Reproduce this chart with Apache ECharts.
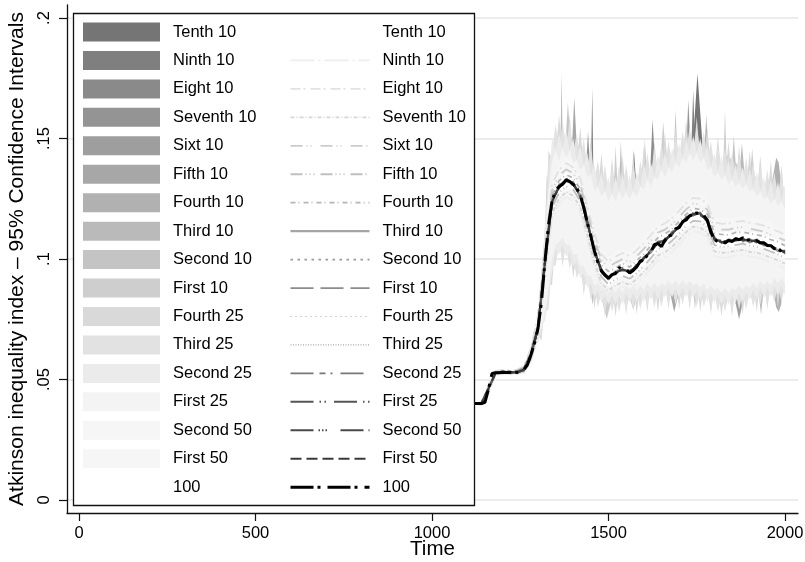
<!DOCTYPE html>
<html><head><meta charset="utf-8">
<script src="https://cdn.jsdelivr.net/npm/echarts@6/dist/echarts.min.js"></script>
<style>html,body{margin:0;padding:0;background:#fff}#c{width:805px;height:562px}</style>
</head><body><div id="c"></div>
<script>
// ---------------- data ----------------
const xTickValues = [0, 500, 1000, 1500, 2000];
const xTickLabels = ['0', '500', '1000', '1500', '2000'];
const yTickValues = [0, 0.05, 0.1, 0.15, 0.2];
const yTickLabels = ['0', '.05', '.1', '.15', '.2'];

const bandNames = ['Tenth 10','Ninth 10','Eight 10','Seventh 10','Sixt 10','Fifth 10','Fourth 10','Third 10','Second 10','First 10','Fourth 25','Third 25','Second 25','First 25','Second 50','First 50','100'];

// point estimate, full sample (100)
const mainTime = [1120,1130,1140,1150,1160,1170,1180,1190,1200,1210,1220,1230,1240,1250,1260,1270,1280,1290,1300,1310,1320,1330,1340,1350,1360,1370,1380,1390,1400,1410,1420,1430,1440,1450,1460,1470,1480,1490,1500,1510,1520,1530,1540,1550,1560,1570,1580,1590,1600,1610,1620,1630,1640,1650,1660,1670,1680,1690,1700,1710,1720,1730,1740,1750,1760,1770,1780,1790,1800,1810,1820,1830,1840,1850,1860,1870,1880,1890,1900,1910,1920,1930,1940,1950,1960,1970,1980,1990,2000];
const full100Line = [.0400,.0400,.0400,.0405,.0460,.0525,.0528,.0528,.0530,.0529,.0530,.0529,.0530,.0531,.0540,.0560,.0600,.0650,.0710,.0820,.0990,.1140,.1240,.1285,.1300,.1310,.1328,.1322,.1310,.1295,.1265,.1215,.1150,.1095,.1035,.0985,.0950,.0932,.0920,.0935,.0940,.0965,.0955,.0958,.0942,.0952,.0968,.0992,.0996,.1016,.1030,.1060,.1064,.1052,.1078,.1095,.1100,.1126,.1130,.1155,.1162,.1180,.1184,.1192,.1180,.1182,.1160,.1110,.1082,.1070,.1076,.1066,.1077,.1072,.1084,.1080,.1088,.1078,.1080,.1070,.1076,.1066,.1068,.1056,.1055,.1042,.1045,.1030,.1030];

// point estimates of the sub-samples
const lineTime = [1120,1140,1160,1180,1200,1220,1240,1260,1280,1300,1320,1340,1360,1380,1400,1420,1440,1460,1480,1500,1520,1540,1560,1580,1600,1620,1640,1660,1680,1700,1720,1740,1760,1780,1800,1820,1840,1860,1880,1900,1920,1940,1960,1980,2000];
const tenth10Line  = [.0400,.0400,.0462,.0530,.0532,.0531,.0531,.0542,.0603,.0713,.0993,.1243,.1303,.1331,.1313,.1268,.1153,.1038,.0953,.0925,.0948,.0961,.0948,.0975,.1003,.1038,.1071,.1081,.1108,.1138,.1171,.1191,.1189,.1163,.1085,.1075,.1077,.1085,.1083,.1079,.1077,.1067,.1055,.1043,.1031];
const ninth10Line  = [.0398,.0394,.0440,.0520,.0522,.0522,.0520,.0528,.0575,.0660,.0920,.1170,.1230,.1258,.1240,.1195,.1080,.0965,.0880,.0850,.0870,.0885,.0872,.0898,.0926,.0960,.0994,.1008,.1030,.1060,.1092,.1114,.1110,.1090,.1012,.1006,.1007,.1014,.1018,.1010,.1006,.0998,.0985,.0975,.0960];
const eight10Line  = [.0402,.0406,.0475,.0536,.0540,.0538,.0540,.0555,.0630,.0765,.1060,.1310,.1370,.1398,.1380,.1335,.1220,.1105,.1020,.0990,.1010,.1025,.1012,.1038,.1066,.1100,.1134,.1148,.1170,.1200,.1232,.1254,.1250,.1230,.1152,.1146,.1147,.1154,.1158,.1150,.1146,.1138,.1125,.1115,.1100];
const seventh10Line= [.0399,.0396,.0448,.0522,.0525,.0524,.0524,.0532,.0582,.0680,.0945,.1190,.1250,.1278,.1262,.1215,.1100,.0985,.0900,.0870,.0890,.0905,.0892,.0918,.0946,.0980,.1014,.1028,.1050,.1080,.1112,.1134,.1130,.1110,.1032,.1026,.1027,.1034,.1038,.1030,.1026,.1018,.1005,.0995,.0980];
const sixt10Line   = [.0401,.0404,.0470,.0532,.0536,.0534,.0537,.0550,.0620,.0745,.1035,.1285,.1346,.1372,.1356,.1310,.1196,.1082,.0996,.0966,.0985,.1000,.0988,.1012,.1042,.1075,.1110,.1122,.1146,.1175,.1206,.1230,.1226,.1205,.1126,.1122,.1122,.1130,.1132,.1126,.1120,.1114,.1100,.1090,.1076];
const fifth10Line  = [.0400,.0398,.0455,.0526,.0527,.0528,.0526,.0535,.0590,.0695,.0968,.1215,.1275,.1302,.1288,.1240,.1128,.1010,.0926,.0895,.0916,.0930,.0918,.0942,.0972,.1004,.1040,.1052,.1076,.1104,.1138,.1158,.1156,.1135,.1058,.1050,.1053,.1058,.1064,.1055,.1052,.1042,.1031,.1019,.1006];
const fourth10Line = [.0400,.0402,.0465,.0530,.0534,.0532,.0535,.0546,.0610,.0725,.1010,.1262,.1325,.1350,.1335,.1290,.1175,.1062,.0975,.0948,.0962,.0982,.0966,.0994,.1020,.1056,.1088,.1104,.1124,.1156,.1185,.1210,.1205,.1186,.1106,.1102,.1100,.1110,.1112,.1106,.1100,.1094,.1080,.1072,.1055];
const third10Line  = [.0400,.0402,.0464,.0526,.0533,.0529,.0532,.0543,.0604,.0714,.0985,.1236,.1305,.1323,.1314,.1260,.1155,.1031,.0955,.0918,.0949,.0955,.0949,.0967,.1005,.1030,.1072,.1074,.1110,.1131,.1172,.1184,.1190,.1155,.1087,.1068,.1078,.1078,.1084,.1072,.1078,.1060,.1056,.1036,.1032];
const second10Line = [.0401,.0398,.0455,.0532,.0526,.0534,.0526,.0535,.0592,.0700,.1002,.1250,.1292,.1337,.1302,.1274,.1140,.1043,.0942,.0930,.0937,.0965,.0937,.0980,.0992,.1043,.1060,.1086,.1097,.1143,.1160,.1196,.1178,.1168,.1074,.1080,.1066,.1090,.1072,.1084,.1066,.1072,.1044,.1048,.1020];
const first10Line  = [.0400,.0403,.0465,.0525,.0534,.0527,.0534,.0546,.0608,.0720,.0978,.1230,.1310,.1318,.1320,.1255,.1160,.1027,.0958,.0914,.0953,.0951,.0953,.0963,.1009,.1026,.1076,.1070,.1114,.1127,.1176,.1180,.1194,.1151,.1091,.1064,.1082,.1074,.1088,.1068,.1082,.1056,.1060,.1032,.1036];
const fourth25Line = [.0401,.0399,.0457,.0531,.0527,.0533,.0527,.0537,.0595,.0705,.0998,.1245,.1295,.1334,.1305,.1270,.1144,.1040,.0945,.0927,.0940,.0962,.0940,.0977,.0995,.1040,.1063,.1083,.1100,.1140,.1163,.1193,.1181,.1165,.1077,.1077,.1069,.1087,.1075,.1081,.1069,.1069,.1047,.1045,.1023];
const third25Line  = [.0400,.0402,.0463,.0526,.0533,.0528,.0533,.0544,.0605,.0716,.0982,.1235,.1306,.1322,.1316,.1258,.1157,.1030,.0956,.0917,.0950,.0954,.0950,.0966,.1006,.1029,.1073,.1073,.1111,.1130,.1173,.1183,.1191,.1154,.1088,.1067,.1079,.1077,.1085,.1071,.1079,.1059,.1057,.1035,.1033];
const second25Line = [.0400,.0399,.0458,.0530,.0528,.0532,.0530,.0538,.0597,.0708,.0994,.1237,.1297,.1331,.1307,.1268,.1147,.1038,.0947,.0925,.0942,.0960,.0942,.0975,.0997,.1038,.1065,.1081,.1102,.1138,.1165,.1191,.1183,.1163,.1079,.1075,.1071,.1085,.1077,.1079,.1071,.1067,.1049,.1043,.1025];
const first25Line  = [.0399,.0401,.0461,.0528,.0532,.0530,.0528,.0542,.0603,.0713,.0986,.1243,.1303,.1325,.1313,.1263,.1153,.1032,.0953,.0919,.0948,.0956,.0948,.0969,.1003,.1032,.1071,.1075,.1108,.1132,.1171,.1185,.1189,.1157,.1085,.1069,.1077,.1079,.1083,.1073,.1077,.1061,.1055,.1037,.1031];
const second50Line = [.0401,.0400,.0459,.0529,.0529,.0531,.0529,.0539,.0598,.0709,.0992,.1242,.1298,.1330,.1308,.1267,.1148,.1037,.0948,.0920,.0947,.0959,.0943,.0974,.0998,.1037,.1070,.1076,.1107,.1133,.1170,.1190,.1184,.1162,.1080,.1074,.1072,.1084,.1078,.1078,.1072,.1066,.1050,.1042,.1026];
const first50Line  = [.0400,.0401,.0462,.0527,.0531,.0529,.0531,.0541,.0602,.0712,.0988,.1238,.1302,.1326,.1312,.1262,.1152,.1033,.0952,.0924,.0943,.0957,.0947,.0970,.1002,.1033,.1066,.1080,.1103,.1137,.1166,.1186,.1188,.1158,.1084,.1070,.1076,.1080,.1082,.1074,.1076,.1062,.1054,.1038,.1030];

// 95% confidence intervals (lower / upper bounds) of the sub-samples
const tenth10Time = [1300,1350,1400,1500,1565,1572,1579,1600,1700,1738,1752,1766,1800,2000];
const tenth10Hi   = [.072,.136,.139,.100,.130,.145,.130,.108,.121,.145,.177,.148,.116,.111];
const tenth10Lo   = [.070,.121,.123,.084,.088,.088,.089,.092,.105,.110,.110,.110,.100,.095];
const ninth10Time = [1300,1350,1400,1451,1454,1457,1500,1600,1700,1735,1740,1745,1800,2000];
const ninth10Hi   = [.072,.136,.139,.143,.171,.137,.100,.108,.121,.148,.170,.148,.116,.111];
const ninth10Lo   = [.070,.121,.123,.103,.102,.101,.084,.092,.105,.110,.110,.110,.100,.095];
const eight10Time = [1300,1350,1400,1500,1600,1618,1625,1632,1700,1800,2000];
const eight10Hi   = [.072,.136,.139,.100,.108,.136,.158,.138,.121,.116,.111];
const eight10Lo   = [.070,.121,.123,.084,.092,.095,.095,.096,.105,.100,.095];
const seventh10Time = [1300,1350,1400,1438,1442,1446,1500,1600,1700,1720,1726,1732,1800,2000];
const seventh10Hi   = [.072,.136,.139,.142,.153,.142,.100,.108,.121,.143,.166,.148,.116,.111];
const seventh10Lo   = [.070,.121,.123,.110,.108,.105,.084,.092,.105,.106,.106,.107,.100,.095];
const sixt10Time  = [1300,1350,1400,1500,1600,1700,1800,1858,1870,1882,1900,2000];
const sixt10Hi    = [.072,.136,.139,.100,.108,.121,.116,.116,.116,.116,.116,.111];
const sixt10Lo    = [.070,.121,.123,.084,.092,.105,.100,.083,.075,.083,.100,.095];
const fifth10Time = [1300,1350,1397,1403,1409,1500,1600,1676,1686,1696,1800,2000];
const fifth10Hi   = [.072,.136,.148,.167,.150,.100,.108,.118,.119,.120,.116,.111];
const fifth10Lo   = [.070,.121,.122,.122,.121,.084,.092,.085,.078,.084,.100,.095];
const fourth10Time = [1300,1350,1400,1500,1600,1700,1772,1777,1782,1900,1961,1968,1975,1982,1989,2000];
const fourth10Hi   = [.072,.136,.139,.100,.108,.121,.146,.160,.145,.116,.130,.136,.142,.140,.132,.111];
const fourth10Lo   = [.070,.121,.123,.084,.092,.105,.104,.104,.104,.100,.090,.086,.080,.078,.081,.095];
const third10Time = [1300,1350,1364,1367,1370,1400,1500,1530,1535,1540,1600,1800,1871,1878,1885,1924,1932,1940,2000];
const third10Hi   = [.072,.136,.148,.177,.150,.139,.100,.130,.149,.131,.108,.116,.136,.148,.136,.118,.117,.116,.111];
const third10Lo   = [.070,.121,.122,.122,.122,.123,.084,.088,.088,.088,.092,.100,.100,.100,.100,.088,.077,.088,.095];
const second10Time = [1300,1350,1379,1385,1391,1449,1455,1461,1500,1562,1570,1578,1598,1603,1608,1684,1690,1696,1800,1849,1855,1861,2000];
const second10Hi   = [.072,.136,.150,.165,.152,.125,.122,.120,.100,.110,.110,.110,.133,.150,.135,.140,.162,.141,.116,.138,.151,.138,.111];
const second10Lo   = [.070,.121,.124,.124,.124,.087,.081,.087,.084,.083,.079,.083,.092,.092,.093,.102,.102,.103,.100,.100,.100,.100,.095];
const first10Time = [1300,1321,1325,1329,1350,1400,1483,1495,1507,1514,1520,1526,1600,1647,1655,1663,1700,1740,1745,1750,1800,1826,1830,1834,1901,1907,1913,2000];
const first10Hi   = [.072,.115,.135,.130,.136,.139,.104,.101,.102,.128,.147,.130,.108,.141,.157,.142,.121,.126,.126,.126,.116,.143,.162,.143,.135,.146,.135,.111];
const first10Lo   = [.070,.090,.092,.095,.121,.123,.082,.075,.082,.086,.086,.087,.092,.099,.100,.100,.105,.086,.079,.086,.100,.100,.100,.100,.100,.100,.100,.095];

const ciTime = [1300,1310,1320,1330,1340,1350,1360,1370,1380,1390,1400,1410,1420,1430,1440,1450,1460,1470,1480,1490,1500,1510,1520,1530,1540,1550,1560,1570,1580,1590,1600,1610,1620,1630,1640,1650,1660,1670,1680,1690,1700,1710,1720,1730,1740,1750,1760,1770,1780,1790,1800,1810,1820,1830,1840,1850,1860,1870,1880,1890,1900,1910,1920,1930,1940,1950,1960,1970,1980,1990,2000];
const fourth25Hi = [.071,.083,.106,.145,.141,.143,.160,.144,.144,.160, .141,.139,.155,.137,.135,.150,.130,.128,.144,.126, .125,.142,.125,.126,.143,.126,.126,.143,.127,.128, .147,.131,.131,.149,.134,.135,.152,.136,.137,.155, .139,.140,.158,.142,.142,.159,.141,.140,.155,.136, .135,.151,.134,.133,.149,.131,.130,.147,.129,.129, .145,.127,.127,.143,.125,.124,.141,.123,.123,.139, .122];
const fourth25Lo = [.069,.066,.082,.090,.089,.108,.110,.097,.109,.107, .092,.103,.100,.085,.096,.094,.079,.091,.090,.076, .089,.089,.076,.089,.089,.077,.090,.090,.077,.090, .090,.078,.091,.091,.078,.091,.092,.079,.092,.092, .079,.092,.092,.079,.092,.091,.078,.091,.090,.077, .090,.089,.076,.089,.089,.076,.090,.090,.077,.090, .091,.091,.078,.092,.092,.079,.092,.093,.080,.093, .093];
const third25Hi  = [.070,.096,.109,.141,.144,.156,.146,.157,.147,.156, .144,.152,.141,.150,.138,.146,.133,.141,.130,.139, .128,.138,.128,.139,.129,.139,.129,.139,.130,.141, .133,.144,.134,.145,.137,.148,.138,.149,.140,.151, .142,.153,.144,.155,.145,.155,.144,.153,.141,.149, .138,.147,.137,.146,.135,.144,.133,.143,.132,.142, .131,.140,.130,.139,.128,.137,.127,.136,.126,.135, .125];
const third25Lo  = [.069,.068,.078,.079,.098,.097,.106,.099,.105,.096, .101,.092,.096,.087,.092,.083,.088,.080,.086,.078, .085,.078,.085,.078,.085,.079,.086,.079,.086,.079, .086,.080,.087,.080,.087,.080,.088,.081,.088,.081, .088,.081,.088,.081,.088,.080,.087,.080,.086,.079, .086,.078,.085,.078,.085,.078,.086,.079,.086,.079, .087,.080,.087,.081,.088,.081,.088,.082,.089,.082, .089];
const second25Hi = [.073,.087,.115,.130,.150,.145,.152,.146,.153,.145, .150,.141,.147,.139,.144,.135,.139,.130,.136,.128, .134,.127,.134,.128,.135,.128,.135,.128,.136,.130, .139,.133,.140,.134,.143,.137,.144,.138,.146,.140, .148,.142,.150,.144,.151,.144,.150,.142,.147,.138, .144,.136,.143,.135,.141,.133,.139,.132,.138,.131, .137,.129,.136,.128,.134,.126,.133,.125,.132,.124, .131];
const second25Lo = [.070,.075,.074,.086,.094,.104,.102,.106,.101,.103, .097,.099,.092,.094,.088,.090,.084,.087,.082,.085, .081,.085,.081,.085,.081,.086,.082,.086,.082,.086, .082,.087,.083,.087,.083,.087,.084,.088,.084,.088, .084,.088,.084,.088,.084,.087,.083,.087,.082,.086, .082,.085,.081,.085,.081,.085,.082,.086,.082,.086, .083,.087,.083,.088,.084,.088,.084,.089,.085,.089, .085];
const first25Hi  = [.073,.090,.110,.128,.140,.145,.141,.146,.142,.145, .140,.141,.137,.139,.134,.135,.128,.130,.126,.128, .124,.127,.124,.128,.125,.128,.125,.128,.126,.130, .129,.133,.130,.134,.133,.137,.134,.138,.136,.140, .138,.142,.140,.144,.141,.144,.140,.142,.137,.138, .134,.136,.133,.135,.131,.133,.130,.132,.129,.131, .128,.129,.126,.128,.125,.126,.123,.125,.122,.124, .121];
const first25Lo  = [.069,.071,.078,.088,.100,.106,.107,.109,.106,.106, .102,.102,.097,.097,.093,.093,.089,.090,.087,.088, .086,.088,.086,.088,.086,.089,.087,.089,.087,.089, .087,.090,.088,.090,.088,.090,.089,.091,.089,.091, .089,.091,.089,.091,.089,.090,.088,.090,.087,.089, .087,.088,.086,.088,.086,.088,.087,.089,.087,.089, .088,.090,.088,.091,.089,.091,.089,.092,.090,.092, .090];

const bandTime = [1300,1320,1340,1360,1380,1400,1420,1440,1460,1480,1500,1520,1540,1560,1580,1600,1620,1640,1660,1680,1700,1720,1740,1760,1780,1800,1820,1840,1860,1880,1900,1920,1940,1960,1980,2000];
const second50Hi = [.075,.108,.133,.139,.142,.140,.135,.124,.112,.104,.101,.103,.104,.103,.106,.109,.112,.115,.117,.119,.122,.125,.127,.127,.125,.117,.117,.117,.117,.118,.117,.117,.116,.115,.113,.112];
const second50Lo = [.067,.093,.118,.124,.127,.125,.121,.109,.098,.0895,.0865,.0885,.090,.0887,.0913,.094,.0975,.101,.102,.1045,.1075,.111,.113,.1125,.1105,.1027,.102,.102,.103,.103,.1025,.102,.101,.100,.099,.0975];
const first50Hi  = [.074,.106,.131,.137,.140,.138,.1335,.122,.1105,.102,.099,.101,.1025,.101,.104,.1066,.110,.1134,.1148,.117,.120,.1232,.1254,.125,.123,.1152,.1146,.1147,.1154,.1158,.115,.1146,.1138,.1125,.1115,.110];
const first50Lo  = [.068,.095,.120,.126,.1288,.127,.1225,.111,.0995,.091,.088,.090,.0915,.0902,.0928,.0956,.099,.1024,.1038,.106,.109,.1122,.1144,.114,.112,.1042,.1036,.1037,.1044,.1048,.104,.1036,.1028,.1015,.1005,.099];
const full100Hi  = [.073,.102,.127,.133,.136,.134,.130,.118,.107,.098,.095,.097,.099,.097,.100,.103,.106,.109,.111,.113,.116,.119,.121,.121,.119,.111,.111,.111,.111,.112,.111,.111,.110,.109,.108,.106];
const full100Lo  = [.069,.096,.121,.127,.130,.128,.124,.112,.101,.092,.089,.091,.093,.091,.094,.097,.100,.103,.105,.107,.110,.113,.115,.115,.113,.105,.105,.105,.105,.106,.105,.105,.104,.103,.102,.100];

// ---------------- styles ----------------
const bandColors = ['#757575','#7f7f7f','#8a8a8a','#949494','#9e9e9e','#a7a7a7','#b1b1b1','#bababa','#c4c4c4','#cecece','#d8d9d8','#e2e2e2','#ebebeb','#f4f4f4','#f6f6f6','#f6f6f6','#ffffff'];
const lineColors = ['#ffffff','#eeeeee','#e2e2e2','#d6d6d6','#cbcbcb','#c0c0c0','#b5b5b5','#a5a5a5','#999999','#8c8c8c','#a8a8a8','#a8a8a8','#777777','#555555','#4a4a4a','#3a3a3a','#000000'];
const lineDashes = [[24,4,2,4],[24,4,2,4],[10,3,2,5],[4,2,1,2],[12,4,1,3,1,9],[12,3,1,3,1,3,1,6],[5,3,1,4],'solid',[2.5,4.5],[23,7],[1,4],[1,1.5],[23,6,6,5,2,8],[23,6,1.5,3.5,1.5,8],[23,5,1.5,2,1.5,2,1.5,13.5],[11,5],[23,4,3,7]];
const lineWidths = [1.8,1.8,1.8,1.8,1.8,1.8,1.8,2.2,1.8,1.8,1.2,1.2,1.8,2,2,2,3];
const FONT = '"Liberation Sans", Arial, Helvetica, sans-serif';

const bandTimes = [tenth10Time,ninth10Time,eight10Time,seventh10Time,sixt10Time,fifth10Time,fourth10Time,third10Time,second10Time,first10Time,ciTime,ciTime,ciTime,ciTime,bandTime,bandTime,bandTime];
const bandLo = [tenth10Lo,ninth10Lo,eight10Lo,seventh10Lo,sixt10Lo,fifth10Lo,fourth10Lo,third10Lo,second10Lo,first10Lo,fourth25Lo,third25Lo,second25Lo,first25Lo,second50Lo,first50Lo,full100Lo];
const bandHi = [tenth10Hi,ninth10Hi,eight10Hi,seventh10Hi,sixt10Hi,fifth10Hi,fourth10Hi,third10Hi,second10Hi,first10Hi,fourth25Hi,third25Hi,second25Hi,first25Hi,second50Hi,first50Hi,full100Hi];
const lineSets = [tenth10Line,ninth10Line,eight10Line,seventh10Line,sixt10Line,fifth10Line,fourth10Line,third10Line,second10Line,first10Line,fourth25Line,third25Line,second25Line,first25Line,second50Line,first50Line,full100Line];

bandLo.forEach((a,i)=>{ const n = bandTimes[i].length; if (a.length!==n || bandHi[i].length!==n) throw new Error('band length '+i+' '+n+' '+a.length+' '+bandHi[i].length); });
lineSets.forEach((a,i)=>{ const T = i===16?mainTime:lineTime; if (a.length!==T.length) throw new Error('line length '+i+' '+a.length); });

const lineKey = n => n + ' ';
const series = [];
// confidence bands: each one polygon placed through the axis scales (api.coord)
bandNames.forEach((name, i) => {
  const T = bandTimes[i], hi = bandHi[i], lo = bandLo[i];
  series.push({
    type:'custom', name:name, xAxisIndex:1, yAxisIndex:1,
    data: T.map((t,j)=>[t, lo[j], hi[j]]),
    encode:{x:0, y:[1,2]},
    itemStyle:{color:bandColors[i]},
    silent:true, animation:false,
    renderItem: (params, api) => {
      if (params.dataIndex !== 0) return null;
      const pts = [];
      for (let j = 0; j < T.length; j++) pts.push(api.coord([T[j], hi[j]]));
      for (let j = T.length - 1; j >= 0; j--) pts.push(api.coord([T[j], lo[j]]));
      return {type:'polygon', shape:{points:pts}, style:{fill:bandColors[i], stroke:null}};
    }
  });
});
bandNames.forEach((name, i) => {
  const T = i===16 ? mainTime : lineTime;
  series.push({
    type:'line', name:lineKey(name), xAxisIndex:1, yAxisIndex:1,
    data: T.map((t,j)=>[t, lineSets[i][j]]),
    symbol:'none', silent:true, animation:false,
    itemStyle:{color:lineColors[i]},
    lineStyle:{color:lineColors[i], width:lineWidths[i], type:lineDashes[i]}
  });
});

const fmtX = v => { const k = xTickValues.findIndex(t=>Math.abs(t-v)<1e-6); return k<0?'':xTickLabels[k]; };
const fmtY = v => { const k = yTickValues.findIndex(t=>Math.abs(t-v)<1e-9); return k<0?'':yTickLabels[k]; };

const legendCommon = {
  orient:'vertical', padding:0, itemGap:9.45, itemHeight:19, selectedMode:false,
  textStyle:{fontFamily:FONT, fontSize:16.5, color:'#000', lineHeight:19, padding:[0,0,0,8]},
  z:5
};

const option = {
  animation:false,
  backgroundColor:'#fff',
  grid:[
    {left:67, right:7, top:5, bottom:49, outerBoundsMode:'none', containLabel:false},
    {left:79, right:20, top:18, bottom:62, outerBoundsMode:'none', containLabel:false},
    {left:67, right:7, top:18, bottom:62, outerBoundsMode:'none', containLabel:false}
  ],
  xAxis:[
    {gridIndex:0, type:'value', min:-34, max:2036.8,
     axisLine:{show:true, onZero:false, lineStyle:{color:'#111', width:1.3}},
     axisTick:{show:true, length:8, customValues:xTickValues, lineStyle:{color:'#111', width:1.2}},
     axisLabel:{show:true, customValues:xTickValues, margin:12, formatter:fmtX, fontFamily:FONT, fontSize:16.5, color:'#000'},
     splitLine:{show:false},
     name:'Time', nameLocation:'middle', nameGap:26, nameMoveOverlap:false,
     nameTextStyle:{fontFamily:FONT, fontSize:20.5, color:'#000'}},
    {gridIndex:1, type:'value', min:0, max:2000, show:false},
    {gridIndex:2, type:'value', min:0, max:1, show:false}
  ],
  yAxis:[
    {gridIndex:0, type:'value', min:0, max:1, axisLine:{show:true, onZero:false, lineStyle:{color:'#111', width:1.3}}, axisTick:{show:false}, axisLabel:{show:false}, splitLine:{show:false}},
    {gridIndex:1, type:'value', min:0, max:0.2, interval:0.05, offset:12,
     axisLine:{show:false, onZero:false}, axisTick:{show:true, length:8, lineStyle:{color:'#111', width:1.2}},
     axisLabel:{margin:14, rotate:90, formatter:fmtY, fontFamily:FONT, fontSize:16.5, color:'#000'},
     splitLine:{show:false},
     name:'Atkinson inequality index \u2013 95% Confidence Intervals', nameLocation:'middle', nameGap:38, nameRotate:90,
     nameTextStyle:{fontFamily:FONT, fontSize:21, color:'#000'}},
    {gridIndex:2, type:'value', min:0, max:0.2, interval:0.05,
     axisLine:{show:false, onZero:false}, axisTick:{show:false}, axisLabel:{show:false},
     splitLine:{show:true, lineStyle:{color:'#e6e6e6', width:1.5}}}
  ],
  graphic:[{type:'rect', z:3, zlevel:0, silent:true,
    shape:{x:73.5, y:13.5, width:401, height:492},
    style:{fill:'#fff', stroke:'#111', lineWidth:1.3}}],
  legend:[
    Object.assign({}, legendCommon, {
      left:83, top:22.5, itemWidth:77,
      data: bandNames.map((n,i)=>({name:n, icon:'rect', itemStyle:{color:bandColors[i], opacity:1}}))
    }),
    Object.assign({}, legendCommon, {
      left:289, top:22.5, itemWidth:79,
      itemStyle:{opacity:0},
      formatter: n => n.trim(),
      data: bandNames.map((n,i)=>({name:lineKey(n), lineStyle:{width:lineWidths[i]}}))
    })
  ],
  series: series
};

const chart = echarts.init(document.getElementById('c'), null, {renderer:'canvas'});
chart.setOption(option);
</script>
</body></html>
